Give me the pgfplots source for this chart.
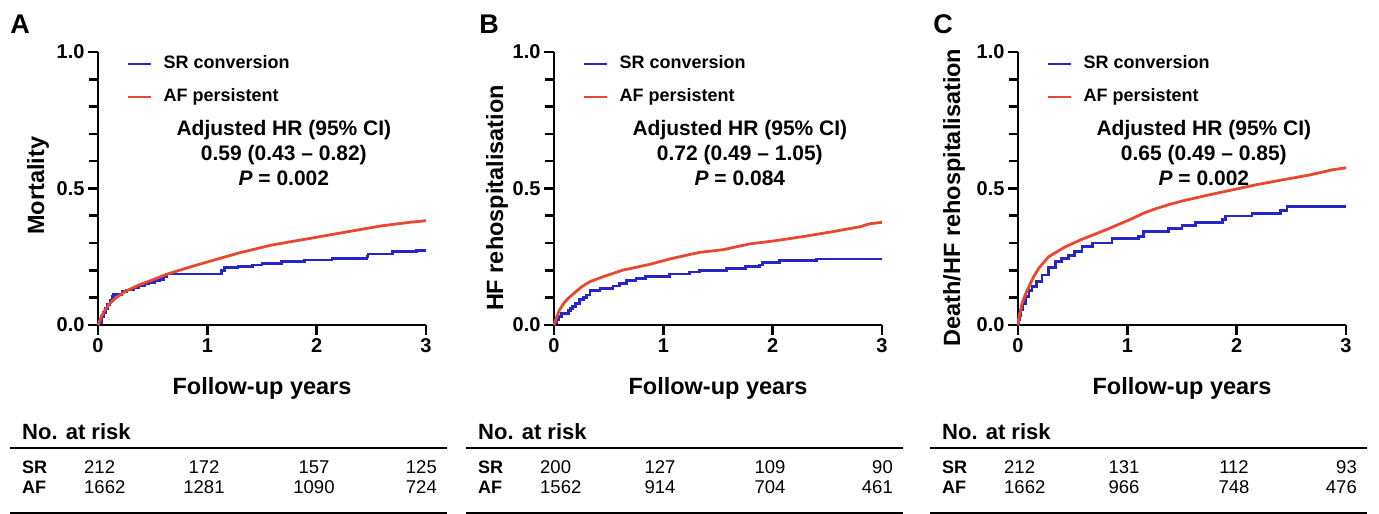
\documentclass[border=0pt]{standalone}
\usepackage{pgfplots}
\pgfplotsset{compat=1.18}
\usepackage{fontspec}
\setmainfont{Liberation Sans}

\definecolor{srblue}{RGB}{38,38,200}
\definecolor{afred}{RGB}{232,72,48}

\pgfplotsset{
  km/.style={
    scale only axis, width=328pt, height=273pt,
    xmin=0, xmax=3, ymin=0, ymax=1,
    axis lines=left, axis line style={line width=2.7pt, -},
    xtick={0,1,2,3}, ytick={0,0.5,1},
    minor ytick={0.1,0.2,0.3,0.4,0.6,0.7,0.8,0.9},
    tick align=outside, tick style={line width=2.6pt, black},
    major tick length=10pt, minor tick length=9pt,
    tick label style={font=\fontsize{20}{20}\selectfont\bfseries},
    /pgf/number format/assume math mode=true,
    yticklabel style={/pgf/number format/.cd, fixed, fixed zerofill, precision=1},
    label style={font=\fontsize{23.5}{27}\selectfont\bfseries},
    xlabel={Follow-up years},
    xlabel style={at={(axis description cs:0.5,-0.231)}, anchor=center},
    clip=false,
    legend cell align=left,
    legend style={draw=none, fill=none, inner sep=0pt, outer sep=0pt,
      at={(axis description cs:0.088,0.987)}, anchor=north west,
      font=\fontsize{18}{18}\selectfont\bfseries,
      nodes={inner sep=0pt, text height=13pt, text depth=4pt},
      column sep=11pt, row sep=16pt},
    legend image code/.code={\draw[#1] (0pt,0pt) -- (23pt,0pt);},
  },
  sr/.style={color=srblue, line width=2.8pt, const plot},
  af/.style={color=afred, line width=2.8pt},
}

\newcommand{\hr}[4]{\node[align=center, font=\fontsize{21}{25}\selectfont\bfseries]
  at (axis cs:1.7,0.63) {Adjusted HR (95\% CI)\\#1 (#2 -- #3)\\\textit{P} = #4};}

\newcommand{\risk}[9]{%
  \begin{scope}[xshift=#1pt, every node/.style={inner sep=0pt, font=\fontsize{18.5}{18.5}\selectfont}]
    \node[anchor=west, font=\fontsize{22}{22}\selectfont\bfseries] at (-76pt,82pt) {No. at risk};
    \draw[line width=1.3pt] (-88pt,66pt) -- (349pt,66pt);
    \draw[line width=1.3pt] (-88pt,1pt) -- (349pt,1pt);
    \node[anchor=west, font=\fontsize{18}{18}\selectfont\bfseries] at (-76pt,47pt) {SR};
    \node[anchor=west, font=\fontsize{18}{18}\selectfont\bfseries] at (-76pt,27pt) {AF};
    \node[anchor=west] at (-14pt,47pt) {#2};
    \node at (106pt,47pt) {#3};
    \node at (216pt,47pt) {#4};
    \node[anchor=east] at (339pt,47pt) {#5};
    \node[anchor=west] at (-14pt,27pt) {#6};
    \node at (106pt,27pt) {#7};
    \node at (216pt,27pt) {#8};
    \node[anchor=east] at (339pt,27pt) {#9};
  \end{scope}}

\begin{document}
\begin{tikzpicture}
\useasboundingbox (0pt,0pt) rectangle (1379pt,514pt);

% panel letters
\node[font=\fontsize{27}{27}\selectfont\bfseries] at (20pt,490pt) {A};
\node[font=\fontsize{27}{27}\selectfont\bfseries] at (489pt,490pt) {B};
\node[font=\fontsize{27}{27}\selectfont\bfseries] at (943pt,490pt) {C};

% A: mortality
\begin{axis}[km, at={(98pt,189pt)}, anchor=south west, ylabel={Mortality},
  ylabel style={at={(axis description cs:-0.183,0.51)}, anchor=center}]
\addplot[sr] coordinates {(0,0) (0.01,0.01) (0.03,0.03) (0.05,0.045) (0.07,0.06) (0.09,0.075)
  (0.11,0.09) (0.13,0.105) (0.14,0.112) (0.22,0.122) (0.26,0.128) (0.33,0.136) (0.37,0.143)
  (0.43,0.15) (0.46,0.155) (0.52,0.162) (0.56,0.168) (0.6,0.177) (0.63,0.187) (1.13,0.201)
  (1.16,0.211) (1.28,0.215) (1.41,0.22) (1.5,0.226) (1.68,0.232) (1.89,0.238) (2.14,0.244)
  (2.46,0.252) (2.47,0.26) (2.69,0.269) (2.91,0.272) (3,0.272)};
\addlegendentry{SR conversion}
\addplot[af] coordinates {(0,0) (0.03,0.03) (0.064,0.055) (0.1,0.075) (0.14,0.092) (0.2,0.11)
  (0.25,0.123) (0.37,0.146) (0.51,0.167) (0.63,0.186) (0.83,0.211) (1.01,0.232) (1.28,0.263)
  (1.59,0.293) (1.95,0.318) (2.29,0.342) (2.59,0.363) (2.87,0.377) (3,0.382)};
\addlegendentry{AF persistent}
\hr{0.59}{0.43}{0.82}{0.002}
\end{axis}

% B: HF rehospitalisation
\begin{axis}[km, at={(554pt,189pt)}, anchor=south west, ylabel={HF rehospitalisation},
  ylabel style={at={(axis description cs:-0.174,0.465)}, anchor=center}]
\addplot[sr] coordinates {(0,0) (0.01,0.01) (0.02,0.018) (0.04,0.03) (0.067,0.043) (0.13,0.053)
  (0.15,0.06) (0.17,0.067) (0.2,0.08) (0.235,0.092) (0.27,0.1) (0.3,0.11) (0.33,0.126)
  (0.42,0.134) (0.54,0.143) (0.6,0.152) (0.66,0.162) (0.75,0.17) (0.84,0.177) (1.06,0.187)
  (1.24,0.194) (1.33,0.201) (1.58,0.208) (1.75,0.214) (1.88,0.22) (1.91,0.228) (2.06,0.236)
  (2.40,0.242) (3,0.242)};
\addlegendentry{SR conversion}
\addplot[af] coordinates {(0,0) (0.02,0.025) (0.05,0.055) (0.09,0.08) (0.13,0.098) (0.2,0.122)
  (0.26,0.142) (0.33,0.159) (0.45,0.177) (0.63,0.201) (0.875,0.222) (1.06,0.242) (1.33,0.266)
  (1.55,0.276) (1.79,0.297) (2.03,0.309) (2.28,0.324) (2.55,0.342) (2.8,0.36) (2.89,0.371)
  (3,0.376)};
\addlegendentry{AF persistent}
\hr{0.72}{0.49}{1.05}{0.084}
\end{axis}

% C: death or HF rehospitalisation
\begin{axis}[km, at={(1018pt,189pt)}, anchor=south west, ylabel={Death/HF rehospitalisation},
  ylabel style={at={(axis description cs:-0.195,0.467)}, anchor=center}]
\addplot[sr] coordinates {(0,0) (0.005,0.02) (0.01,0.035) (0.02,0.055) (0.04,0.08) (0.067,0.104)
  (0.1,0.125) (0.128,0.14) (0.17,0.16) (0.22,0.183) (0.28,0.21) (0.34,0.232) (0.4,0.245)
  (0.46,0.256) (0.52,0.27) (0.585,0.287) (0.68,0.3) (0.86,0.317) (1.1,0.324) (1.15,0.342)
  (1.38,0.354) (1.5,0.364) (1.62,0.375) (1.87,0.387) (1.9,0.399) (2.14,0.409) (2.4,0.418)
  (2.46,0.433) (3,0.433)};
\addlegendentry{SR conversion}
\addplot[af] coordinates {(0,0) (0.01,0.03) (0.037,0.079) (0.07,0.115) (0.1,0.14) (0.14,0.175)
  (0.19,0.208) (0.28,0.25) (0.43,0.286) (0.585,0.314) (0.8,0.348) (1.04,0.389) (1.15,0.41)
  (1.26,0.426) (1.38,0.441) (1.5,0.454) (1.74,0.476) (1.96,0.495) (2.17,0.513) (2.41,0.531)
  (2.66,0.549) (2.87,0.568) (3,0.576)};
\addlegendentry{AF persistent}
\hr{0.65}{0.49}{0.85}{0.002}
\end{axis}

% numbers at risk
\risk{98}{212}{172}{157}{125}{1662}{1281}{1090}{724}
\risk{554}{200}{127}{109}{90}{1562}{914}{704}{461}
\risk{1018}{212}{131}{112}{93}{1662}{966}{748}{476}
\end{tikzpicture}
\end{document}
